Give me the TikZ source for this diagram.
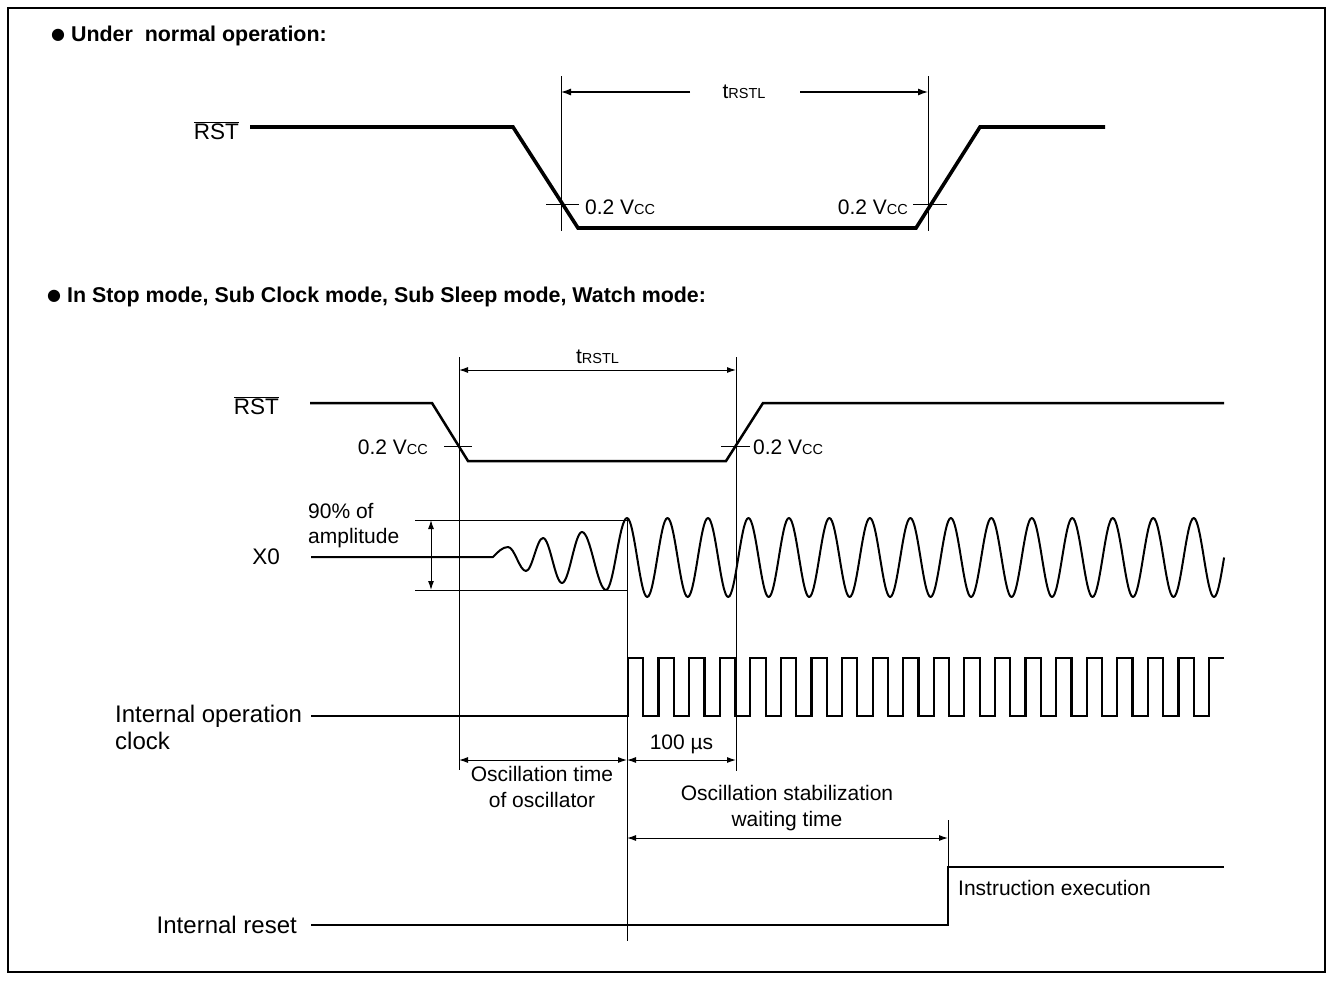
\documentclass[tikz,border=0pt]{standalone}
\usepackage{fontspec}
\setmainfont{Liberation Sans}
\newfontfamily\symfont{DejaVu Sans}
\usetikzlibrary{arrows.meta, positioning}
\newcommand{\capsm}[1]{{\fontsize{14.5}{14.5}\selectfont #1}}
\newcommand{\rstbar}{$\overline{\mbox{RST}}$}
\newcommand{\vcc}{0.2 V\capsm{CC}}
\newcommand{\blt}{\raisebox{2.5pt}{\symfont\fontsize{16}{16}\selectfont ●}}

\begin{document}
\begin{tikzpicture}[
    x=1pt, y=-1pt,
    every node/.style={inner sep=0pt, font=\fontsize{21}{26}\selectfont},
    head/.style={anchor=west, font=\bfseries\fontsize{21.4}{25}\selectfont},
    siglabel/.style={anchor=east, font=\fontsize{22.5}{27}\selectfont},
    biglabel/.style={font=\fontsize{24}{27}\selectfont},
    thicksig/.style={line width=3.6pt, line join=miter},
    sig/.style={line width=2.5pt, line join=miter},
    clk/.style={line width=2.2pt, line join=miter},
    osc/.style={line width=2pt, line join=round},
    guide/.style={line width=0.9pt},
    dimarrow/.style={line width=1pt, {Latex[length=9pt,width=6pt]}-{Latex[length=9pt,width=6pt]}},
    halfarrow/.style={line width=1.2pt, -{Latex[length=10pt,width=7pt]}}
]
\useasboundingbox (0,0) rectangle (1333,980);
\draw[line width=2pt] (8,8) rectangle (1325,972);

\node[head] (hdnormal) at (51,36) {\blt\ Under\ \ normal operation:};
\node[head] (hdstop) at (47,297) {\blt\ In Stop mode, Sub Clock mode, Sub Sleep mode, Watch mode:};

\coordinate (rstA) at (250,127);
\node[siglabel, left=11pt of rstA, yshift=-4pt] (rsttop) {\rstbar};
\draw[thicksig] (rstA) -- (513,127) -- (578,228) -- (916,228) -- (980,127) -- (1105,127);

\coordinate (tfallTop) at (561,76);
\coordinate (tfallBot) at (561,231);
\coordinate (triseTop) at (928,76);
\coordinate (triseBot) at (928,231);
\draw[guide] (tfallTop) -- (tfallBot);
\draw[guide] (triseTop) -- (triseBot);
\node (trstltop) at (744,92) {t\capsm{RSTL}};
\draw[halfarrow] (690,92) -- (561,92);
\draw[halfarrow] (800,92) -- (928,92);
\draw[guide] (546,204) -- (579,204);
\draw[guide] (913,204) -- (947,204);
\node[anchor=west] (vccfall) at (585,207) {\vcc};
\node[anchor=east] (vccrise) at (908,207) {\vcc};

\coordinate (rstB) at (310,403);
\node[siglabel, left=31pt of rstB, yshift=-3pt] (rstbot) {\rstbar};
\draw[sig] (rstB) -- (432,403) -- (468,461) -- (726,461) -- (763,403) -- (1224,403);

\coordinate (fallTop) at (459,357);
\coordinate (fallBot) at (459,770);
\coordinate (riseTop) at (736,357);
\coordinate (riseBot) at (736,771);
\coordinate (lockTop) at (627,518);
\coordinate (lockBot) at (627,941);
\coordinate (execTop) at (948,820);
\coordinate (execBot) at (948,867);
\draw[guide] (fallTop) -- (fallBot);
\draw[guide] (riseTop) -- (riseBot);
\draw[guide] (lockTop) -- (lockBot);
\draw[guide] (execTop) -- (execBot);

\draw[dimarrow] (459,370) -- node[above=6pt] (trstlbot) {t\capsm{RSTL}} (736,370);
\draw[guide] (444,446) -- (472,446);
\draw[guide] (721,446) -- (750,446);
\node[anchor=east] (vccfallb) at (428,447) {\vcc};
\node[anchor=west] (vccriseb) at (753,447) {\vcc};

\coordinate (xA) at (311,557);
\node[siglabel, left=31pt of xA] (xzero) {X0};
\node[anchor=west, align=left, font=\fontsize{21}{25}\selectfont] (ninety) at (308,526) {90\% of\\amplitude};
\draw[guide] (415,520) -- (628,520);
\draw[guide] (415,590) -- (628,590);
\draw[dimarrow] (431,520) -- (431,590);
\draw[osc] (xA) -- (493,557) sin (508,547) cos (517,559) sin (526,571)
  cos (534.5,554.5) sin (543,538) cos (552.5,560.5) sin (562,583)
  cos (572,557.5) sin (582,532) cos (594,561) sin (606,590)
  cos (616.5,554) sin (627,518)
  \foreach \k in {1,...,14} {
    cos ++(10.12,39.5) sin ++(10.12,39.5) cos ++(10.12,-39.5) sin ++(10.12,-39.5)
  }
  cos ++(10.12,39.5) sin ++(10.12,39.5) cos ++(10.12,-39.5);

\coordinate (clkA) at (311,716);
\node[biglabel, anchor=west, align=left] (intclk) at (115,727) {Internal operation\\clock};
\draw[clk] (clkA) -- (628,716)
  \foreach \k in {1,...,19} {
    -- ++(0,-58) -- ++(15.29,0) -- ++(0,58) -- ++(15.29,0)
  }
  -- ++(0,-58) -- (1224,658);

\draw[dimarrow] (459,760) -- (627,760);
\draw[dimarrow] (627,760) -- node[above=6pt] (hundred) {100 µs} (736,760);
\node[anchor=north, align=center] (osctime) at (542,766) {Oscillation time\\of oscillator};
\node[anchor=north, align=center] (stabwait) at (787,785) {Oscillation stabilization\\waiting time};
\draw[dimarrow] (627,838) -- (948,838);

\coordinate (rstI) at (311,925);
\node[siglabel, biglabel, left=14pt of rstI] (intrst) {Internal reset};
\draw[sig] (rstI) -- (948,925) -- (execBot) -- (1224,867);
\node[anchor=west] (instexec) at (958,888) {Instruction execution};
\end{tikzpicture}
\end{document}
